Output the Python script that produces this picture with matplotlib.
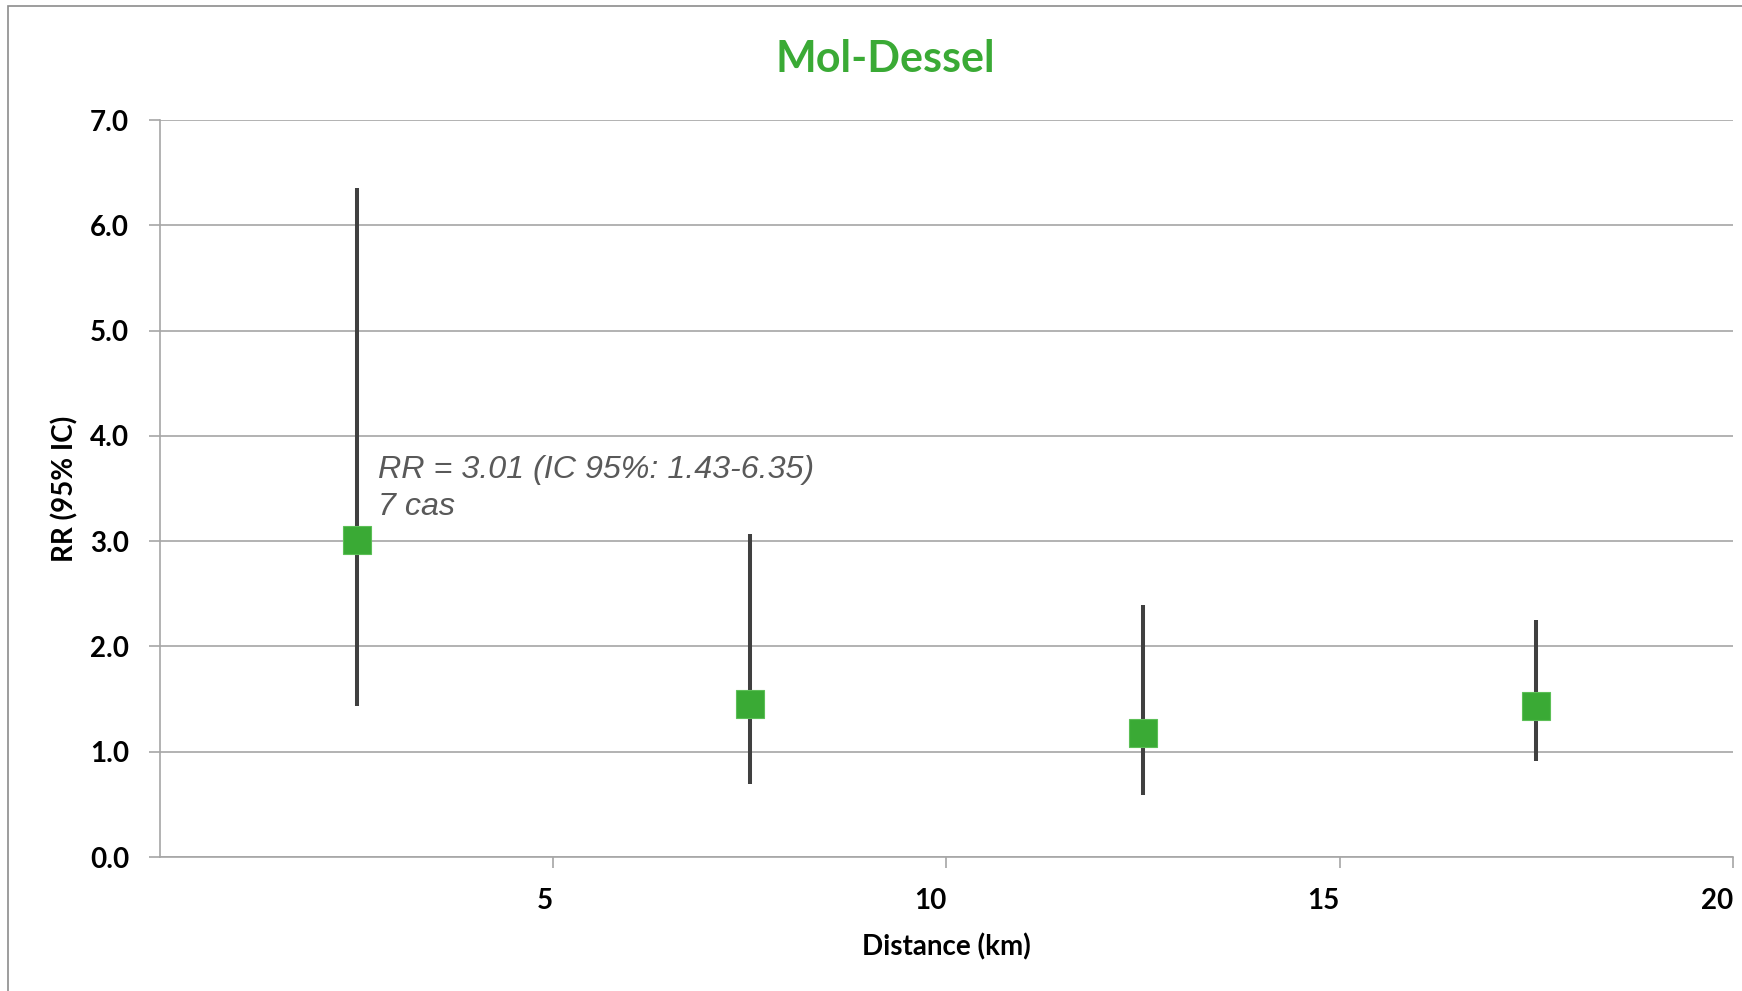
import matplotlib
matplotlib.use("Agg")
import matplotlib.pyplot as plt
from matplotlib.patches import Rectangle

# Données : distance (km), RR et intervalle de confiance à 95 %
distance = [2.5, 7.5, 12.5, 17.5]
rr = [3.01, 1.45, 1.18, 1.43]
ic_bas = [1.43, 0.69, 0.59, 0.91]
ic_haut = [6.35, 3.07, 2.39, 2.25]
cas_zone1 = 7

vert = "#3aaa35"
gris_grille = "#a6a6a6"
police = "Lato"

fig = plt.figure(figsize=(17.42, 9.91), dpi=100)
ax = fig.add_axes([0.0918, 0.1352, 0.9030, 0.7437])

# Cadre extérieur du graphique (coupé à droite et en bas)
fig.patches.append(Rectangle((8 / 1742, -0.05), 1.1, 1 - 6 / 991 + 0.05,
                             transform=fig.transFigure, fill=False,
                             edgecolor="#8c8c8c", lw=1.2))

# Barres d'erreur sans chapeau puis marqueurs carrés
err = [[r - b for r, b in zip(rr, ic_bas)], [h - r for r, h in zip(rr, ic_haut)]]
ax.errorbar(distance, rr, yerr=err, fmt="none", ecolor="#404040",
            elinewidth=2.9, capsize=0, zorder=3)
ax.plot(distance, rr, "s", color=vert, markersize=19.5,
        markeredgecolor="#5cbf57", markeredgewidth=0.8, zorder=4, linestyle="none")

ax.set_xlim(0, 20)
ax.set_ylim(0, 7)
ax.set_xticks([5, 10, 15, 20])
ax.set_yticks([0, 1, 2, 3, 4, 5, 6, 7])
ax.set_yticklabels([f"{v:.1f}" for v in ax.get_yticks()])
ax.set_xticklabels(["5", "10", "15", "20"], ha="right")

ax.grid(axis="y", color=gris_grille, lw=1.2)
ax.set_axisbelow(True)
for s in ["top", "right"]:
    ax.spines[s].set_visible(False)
for s in ["left", "bottom"]:
    ax.spines[s].set_color(gris_grille)
    ax.spines[s].set_linewidth(1.2)

ax.tick_params(axis="both", direction="out", color=gris_grille, width=1.2,
               length=8, pad=14, labelsize=20)
for lab in ax.get_xticklabels() + ax.get_yticklabels():
    lab.set_fontfamily(police)
    lab.set_fontweight("bold")

ax.set_xlabel("Distance (km)", fontsize=20, fontweight="bold", family=police, labelpad=14)
ax.set_ylabel("RR (95% IC)", fontsize=20, fontweight="bold", family=police, labelpad=8.5)
fig.text(0.508, 0.9405, "Mol-Dessel", ha="center", va="center", color=vert,
         fontsize=31, fontweight="bold", family=police)

ax.text(2.77, 3.82,
        f"RR = {rr[0]:.2f} (IC 95%: {ic_bas[0]:.2f}-{ic_haut[0]:.2f})\n{cas_zone1} cas",
        ha="left", va="top", fontsize=23.2, style="italic",
        family="Liberation Sans", color="#595959", linespacing=1.3)

fig.savefig("out.png", dpi=100)
